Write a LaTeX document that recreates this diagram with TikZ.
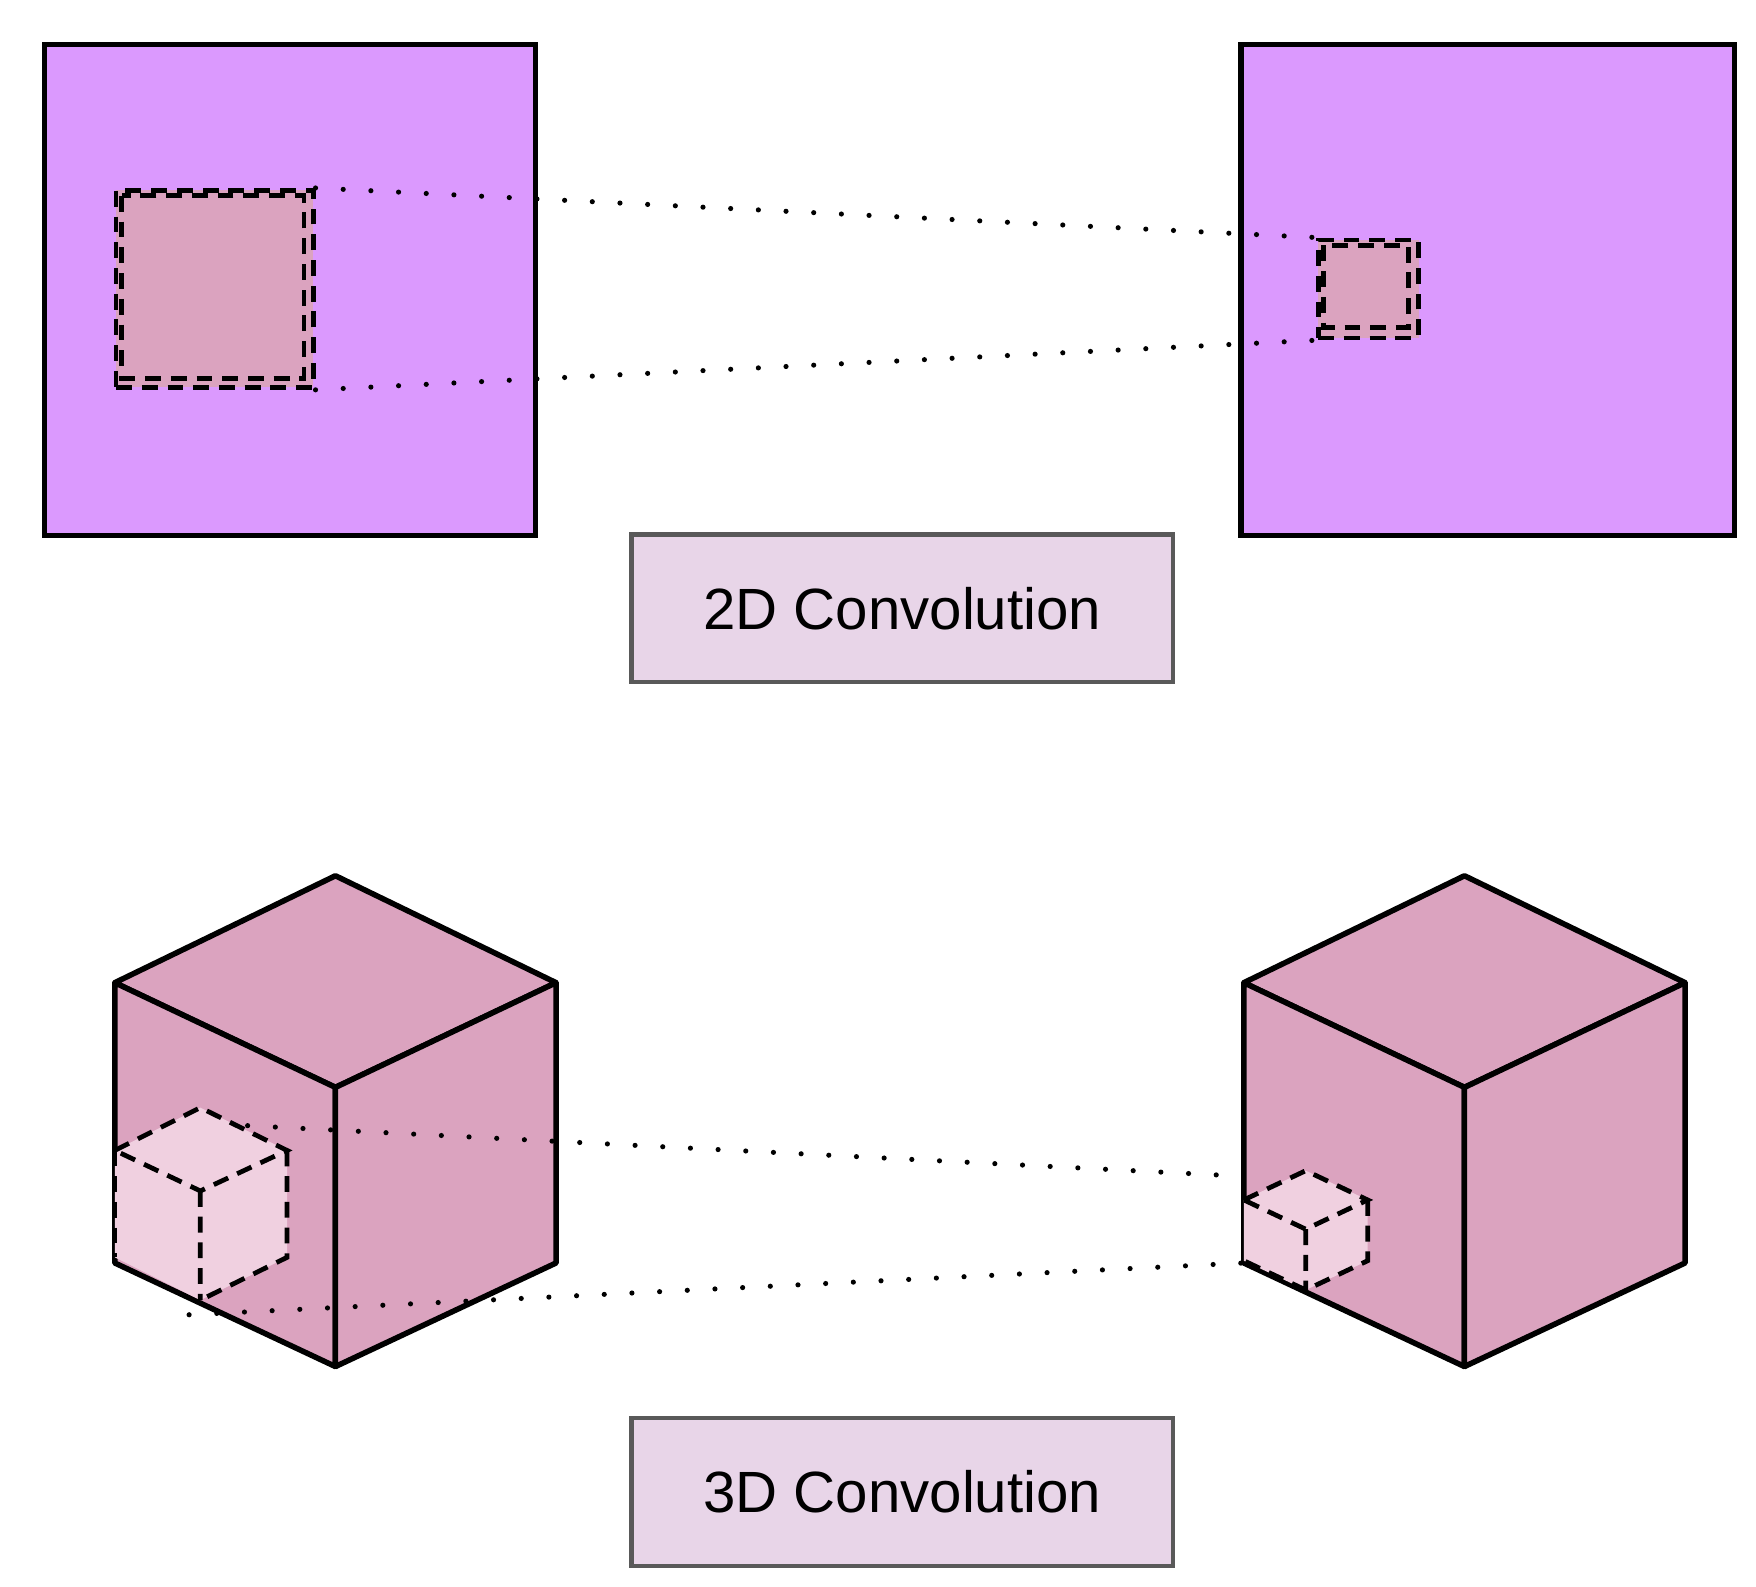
\documentclass[tikz,border=0pt]{standalone}
\usepackage{fontspec}
\setmainfont{Liberation Sans}
\begin{document}
\begin{tikzpicture}[x=0.01cm,y=-0.01cm,
  big/.style={draw=black,line width=1.4pt,fill=violetA,anchor=north west,inner sep=0pt},
  win/.style={draw=black,line width=1.2pt,dash pattern=on 4pt off 2.5pt,fill=pinkA},
  dot/.style={line width=1.3pt,dash pattern=on 0pt off 7pt,line cap=round},
  lab/.style={draw=gray!70!black,line width=1.1pt,fill=lilac,minimum width=4.81cm,minimum height=1.31cm,font=\fontsize{14.7}{16}\selectfont,anchor=north west,inner sep=0pt},
  face/.style={draw=black,line width=1.4pt,fill=pinkA,line join=round},
  sface/.style={draw=black,line width=1.2pt,dash pattern=on 4pt off 2.5pt,fill=pinkB},
]
\definecolor{violetA}{HTML}{DB99FE}
\definecolor{pinkA}{HTML}{DBA3BF}
\definecolor{pinkB}{HTML}{F0D0E0}
\definecolor{lilac}{HTML}{E8D5E8}
\useasboundingbox (0,0) rectangle (1560,1409);
% 2D
\node[big,minimum width=4.36cm,minimum height=4.36cm] (L) at (37,37) {};
\node[big,minimum width=4.38cm,minimum height=4.36cm] (R) at (1100,37) {};
\node[win,minimum width=1.75cm,minimum height=1.75cm,anchor=north west,inner sep=0pt] (lw) at (101,167) {};
\draw[win,fill=none] (108,174) rectangle (270,336);
\node[win,minimum width=0.89cm,minimum height=0.87cm,anchor=north west,inner sep=0pt] (rw) at (1169,211) {};
\draw[win,fill=none] (1176,218) rectangle (1251,291);
\draw[dot] (lw.north east) -- (rw.north west);
\draw[dot] (lw.south east) -- (rw.south west);
\node[lab] (l2) at (559,473) {2D Convolution};
% 3D cubes
\foreach \dx in {0,1003}{
  \begin{scope}[xshift=\dx*0.01cm]
  \draw[face] (102,873) -- (298,778) -- (494,873) -- (298,966) -- cycle;
  \draw[face] (102,873) -- (298,966) -- (298,1214) -- (102,1122) -- cycle;
  \draw[face] (298,966) -- (494,873) -- (494,1122) -- (298,1214) -- cycle;
  \end{scope}
}
% small cube left
\fill[pinkB] (102,1022) -- (178,984) -- (255,1022) -- (255,1117) -- (178,1155) -- (102,1117) -- cycle;
\draw[sface,fill=none] (102,1022) -- (178,984) -- (255,1022) -- (178,1058) -- cycle;
\draw[sface,fill=none] (178,1058) -- (178,1155) (255,1022) -- (255,1117) -- (178,1155);
\draw[sface,fill=none] (102,1022) -- (102,1117);
\coordinate (a1) at (220,1000);
\coordinate (a2) at (168,1168);
% small cube right
\fill[pinkB] (1105,1066) -- (1160,1040) -- (1215,1066) -- (1215,1120) -- (1160,1146) -- (1105,1120) -- cycle;
\draw[sface,fill=none] (1105,1066) -- (1160,1040) -- (1215,1066) -- (1160,1092) -- cycle;
\draw[sface,fill=none] (1160,1092) -- (1160,1146) (1215,1066) -- (1215,1120) -- (1160,1146) -- (1105,1120);
\coordinate (b1) at (1105,1045);
\coordinate (b2) at (1105,1122);
\draw[dot] (a1) -- (b1);
\draw[dot] (a2) -- (b2);
\node[lab] (l3) at (559,1258) {3D Convolution};
\end{tikzpicture}
\end{document}
